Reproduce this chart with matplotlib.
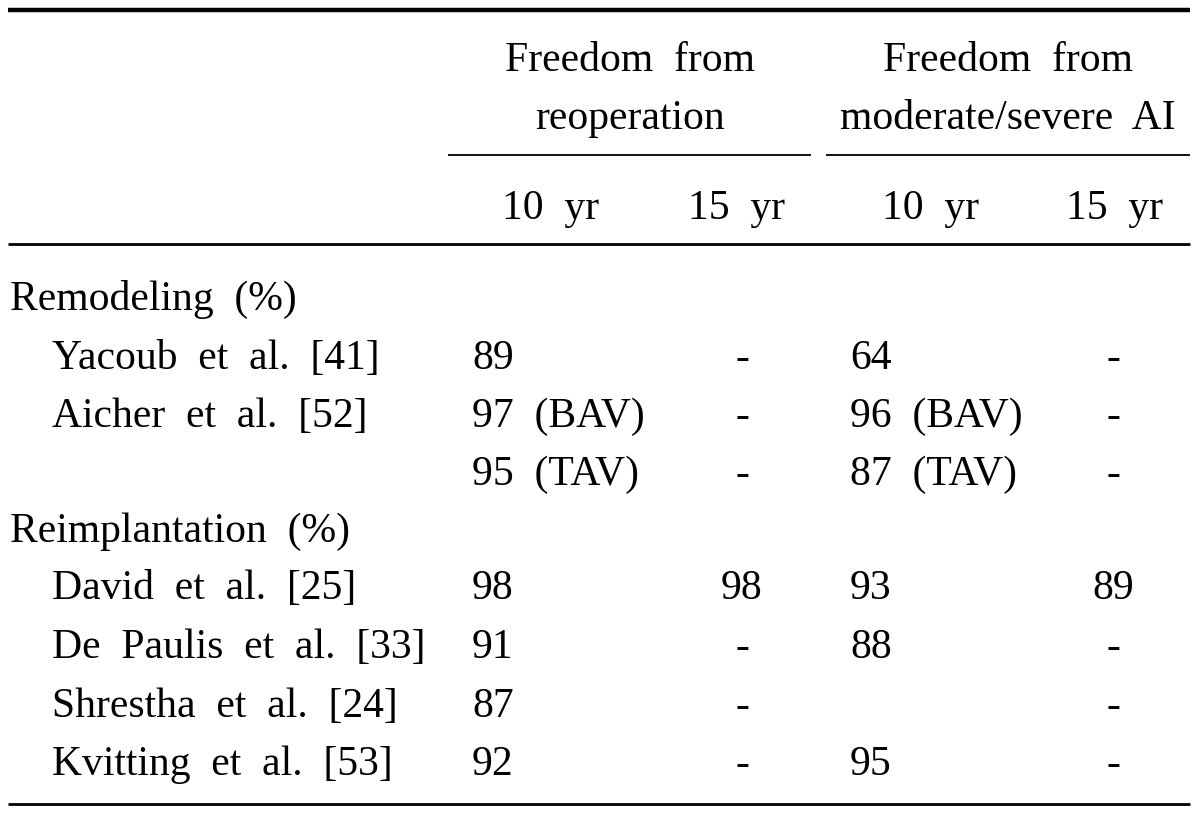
import matplotlib
matplotlib.use('Agg')
from matplotlib import pyplot as plt

# table content
group_labels = ['Freedom  from\nreoperation', 'Freedom  from\nmoderate/severe  AI']
sub_labels = ['10  yr', '15  yr', '10  yr', '15  yr']
row_labels = ['Remodeling  (%)', 'Yacoub  et  al.  [41]', 'Aicher  et  al.  [52]', '',
              'Reimplantation  (%)', 'David  et  al.  [25]', 'De  Paulis  et  al.  [33]',
              'Shrestha  et  al.  [24]', 'Kvitting  et  al.  [53]']
is_group = [True, False, False, False, True, False, False, False, False]
reop_10 = ['', '89', '97  (BAV)', '95  (TAV)', '', '98', '91', '87', '92']
reop_15 = ['', '-', '-', '-', '', '98', '-', '-', '-']
ai_10 = ['', '64', '96  (BAV)', '87  (TAV)', '', '93', '88', '', '95']
ai_15 = ['', '-', '-', '-', '', '89', '-', '-', '-']

W, H = 1200, 814
fig = plt.figure(figsize=(W / 100, H / 100), dpi=100)
ax = fig.add_axes([0, 0, 1, 1])
ax.set_xlim(0, W)
ax.set_ylim(H, 0)
ax.axis('off')

font = dict(family='Liberation Serif', fontsize=30, color='black')

# rules
ax.plot([8, 1190], [10, 10], color='black', lw=3.2, solid_capstyle='butt')
ax.plot([448, 811], [155, 155], color='black', lw=1.3, solid_capstyle='butt')
ax.plot([826, 1190], [155, 155], color='black', lw=1.3, solid_capstyle='butt')
ax.plot([8, 1190], [244, 244], color='black', lw=2.0, solid_capstyle='butt')
ax.plot([8, 1190], [804, 804], color='black', lw=2.0, solid_capstyle='butt')

# header
for xc, lab in zip([630, 1008], group_labels):
    top, bottom = lab.split('\n')
    ax.text(xc, 71, top, ha='center', va='baseline', **font)
    ax.text(xc, 129, bottom, ha='center', va='baseline', **font)
for xc, lab in zip([551, 736, 931, 1114], sub_labels):
    ax.text(xc, 219, lab, ha='center', va='baseline', **font)

# body
row_y = [310, 369, 427, 485, 542, 599, 658, 717, 775]
for i, y in enumerate(row_y):
    ax.text(10 if is_group[i] else 52, y, row_labels[i], ha='left', va='baseline', **font)
    ax.text(472, y, reop_10[i], ha='left', va='baseline', **font)
    ax.text(742, y, reop_15[i], ha='center', va='baseline', **font)
    ax.text(850, y, ai_10[i], ha='left', va='baseline', **font)
    ax.text(1113, y, ai_15[i], ha='center', va='baseline', **font)

fig.savefig('out.png', dpi=100, facecolor='white')
